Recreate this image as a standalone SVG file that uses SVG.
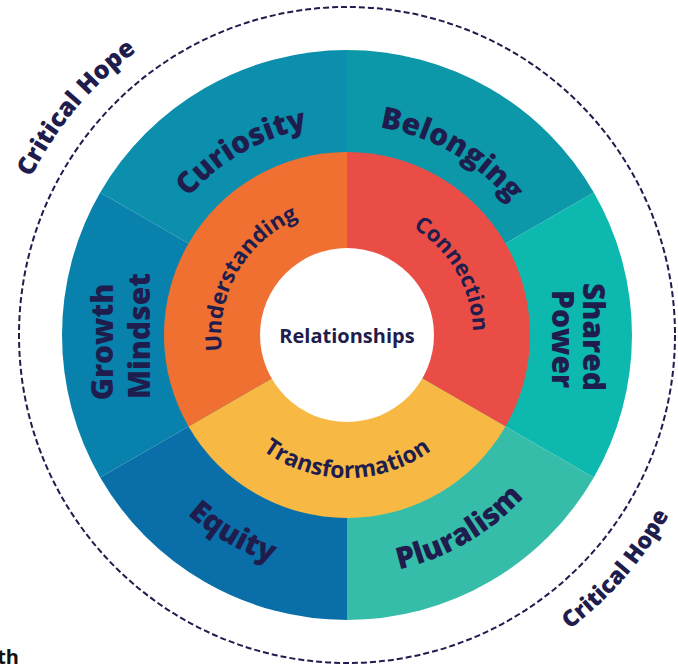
<svg xmlns="http://www.w3.org/2000/svg" width="678" height="667" viewBox="0 0 678 667">
<style>
.lbl{font-family:"Open Sans","Liberation Sans",sans-serif;font-weight:700;fill:#1f1d4d}
.outer{font-size:30px;font-weight:800}
.inner{font-size:22px}
.hope{font-size:24px;font-weight:800}
</style>
<defs>
<path id="upOuter" d="M347 545 A210 210 0 0 1 347 125 A210 210 0 0 1 347 545"/>
<path id="lowOuter" d="M347 95 A240 240 0 0 0 347 575 A240 240 0 0 0 347 95"/>
<path id="upInner" d="M347 461 A126 126 0 0 1 347 209 A126 126 0 0 1 347 461"/>
<path id="lowInner" d="M347 192 A143 143 0 0 0 347 478 A143 143 0 0 0 347 192"/>
<path id="upHope" d="M347 688 A353 353 0 0 1 347 -18 A353 353 0 0 1 347 688"/>
<path id="lowHope" d="M347 -34 A369 369 0 0 0 347 704 A369 369 0 0 0 347 -34"/>
</defs>
<rect width="678" height="667" fill="#ffffff"/>
<g id="critical-hope-ring">
<circle cx="347" cy="335" r="328" fill="none" stroke="#1f1d4d" stroke-width="2" stroke-dasharray="6 3"/>
<text class="lbl hope" text-anchor="middle" style="font-size:25px"><textPath href="#upHope" startOffset="36.1%">Critical Hope</textPath></text>
<text class="lbl hope" text-anchor="middle" style="font-size:23px"><textPath href="#lowHope" startOffset="63.6%">Critical Hope</textPath></text>
</g>
<g id="belonging">
<path d="M347 335 L347 50 A285 285 0 0 1 593.8 192.5 Z" fill="#0c98a9"/>
<text class="lbl outer" text-anchor="middle"><textPath href="#upOuter" startOffset="58.33%">Belonging</textPath></text>
</g>
<g id="shared-power">
<path d="M347 335 L593.8 192.5 A285 285 0 0 1 593.8 477.5 Z" fill="#0db8ae"/>
<text class="lbl outer" text-anchor="middle" transform="translate(583,337) rotate(90)">Shared</text>
<text class="lbl outer" text-anchor="middle" transform="translate(552,339) rotate(90)">Power</text>
</g>
<g id="pluralism">
<path d="M347 335 L593.8 477.5 A285 285 0 0 1 347 620 Z" fill="#36bdaa"/>
<text class="lbl outer" text-anchor="middle"><textPath href="#lowOuter" startOffset="58.33%">Pluralism</textPath></text>
</g>
<g id="equity">
<path d="M347 335 L347 620 A285 285 0 0 1 100.2 477.5 Z" fill="#0a6fa9"/>
<text class="lbl outer" text-anchor="middle"><textPath href="#lowOuter" startOffset="41.67%">Equity</textPath></text>
</g>
<g id="growth-mindset">
<path d="M347 335 L100.2 477.5 A285 285 0 0 1 100.2 192.5 Z" fill="#0881ad"/>
<text class="lbl outer" text-anchor="middle" transform="translate(113,342) rotate(-90)">Growth</text>
<text class="lbl outer" text-anchor="middle" transform="translate(150,336) rotate(-90)">Mindset</text>
</g>
<g id="curiosity">
<path d="M347 335 L100.2 192.5 A285 285 0 0 1 347 50 Z" fill="#0c8ead"/>
<text class="lbl outer" text-anchor="middle"><textPath href="#upOuter" startOffset="41.67%">Curiosity</textPath></text>
</g>
<g id="connection">
<path d="M347 335 L347 152 A183 183 0 0 1 505.5 426.5 Z" fill="#ea4d45"/>
<text class="lbl inner" text-anchor="middle"><textPath href="#upInner" startOffset="66.67%">Connection</textPath></text>
</g>
<g id="transformation">
<path d="M347 335 L505.5 426.5 A183 183 0 0 1 188.5 426.5 Z" fill="#f8b944"/>
<text class="lbl inner" text-anchor="middle" style="font-size:23px"><textPath href="#lowInner" startOffset="50%">Transformation</textPath></text>
</g>
<g id="understanding">
<path d="M347 335 L188.5 426.5 A183 183 0 0 1 347 152 Z" fill="#ef7031"/>
<text class="lbl inner" text-anchor="middle"><textPath href="#upInner" startOffset="33.33%">Understanding</textPath></text>
</g>
<g id="relationships">
<circle cx="347" cy="335" r="87" fill="#ffffff"/>
<text class="lbl" x="347" y="343" text-anchor="middle" style="font-size:20px">Relationships</text>
</g>
<text x="19" y="664" text-anchor="end" style="font-family:'Open Sans','Liberation Sans',sans-serif;font-weight:700;font-size:20px;fill:#111111">th</text>
</svg>
